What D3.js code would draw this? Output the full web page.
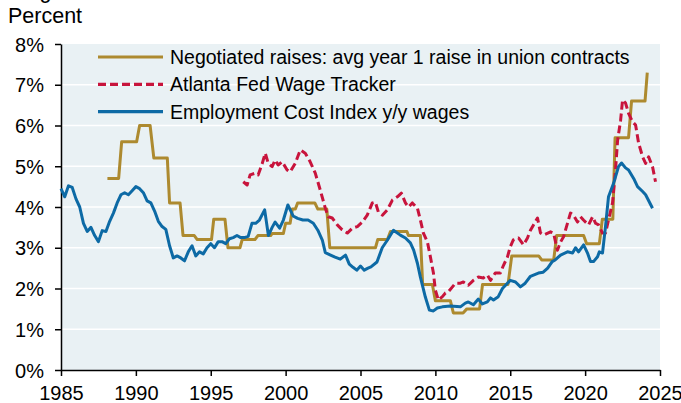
<!DOCTYPE html>
<html>
<head>
  <meta charset="utf-8">
  <title></title>
  <style>
    body { margin: 0; background: #fff; }
    svg text { font-family: "Liberation Sans", Arial, sans-serif; fill: #000; }
  </style>
  <script src="https://d3js.org/d3.v7.min.js"></script>
</head>
<body>
  <svg id="chart" width="681" height="403"></svg>
  <script>
    // ECI y/y wages (decimal year, percent)
    const eciData = [
      [1985.0, 4.45], [1985.25, 4.25], [1985.5, 4.52], [1985.75, 4.48], [1986.0, 4.2], [1986.25, 4.0],
      [1986.5, 3.6], [1986.75, 3.4], [1987.0, 3.5], [1987.25, 3.3], [1987.5, 3.15], [1987.75, 3.42],
      [1988.0, 3.4], [1988.25, 3.65], [1988.5, 3.85], [1988.75, 4.1], [1989.0, 4.3], [1989.25, 4.35],
      [1989.5, 4.3], [1989.75, 4.4], [1990.0, 4.5], [1990.25, 4.45], [1990.5, 4.35], [1990.75, 4.15],
      [1991.0, 4.1], [1991.25, 3.9], [1991.5, 3.65], [1991.75, 3.52], [1992.0, 3.45], [1992.25, 3.05],
      [1992.5, 2.75], [1992.75, 2.8], [1993.0, 2.75], [1993.25, 2.68], [1993.5, 2.9], [1993.75, 3.05],
      [1994.0, 2.8], [1994.25, 2.9], [1994.5, 2.85], [1994.75, 3.0], [1995.0, 3.1], [1995.25, 3.0],
      [1995.5, 3.15], [1995.75, 3.15], [1996.0, 3.1], [1996.25, 3.22], [1996.5, 3.25], [1996.75, 3.3],
      [1997.0, 3.25], [1997.25, 3.25], [1997.5, 3.28], [1997.75, 3.6], [1998.0, 3.6], [1998.25, 3.68],
      [1998.6, 3.93], [1998.85, 3.3], [1999.1, 3.5], [1999.3, 3.63], [1999.6, 3.48], [1999.85, 3.68],
      [2000.15, 4.05], [2000.5, 3.78], [2000.8, 3.72], [2001.15, 3.68], [2001.5, 3.68], [2001.85, 3.6],
      [2002.15, 3.43], [2002.45, 3.19], [2002.65, 2.88], [2003.0, 2.82], [2003.3, 2.77], [2003.65, 2.72],
      [2004.0, 2.82], [2004.25, 2.6], [2004.5, 2.52], [2004.75, 2.45], [2005.0, 2.55], [2005.25, 2.45],
      [2005.5, 2.5], [2005.7, 2.53], [2006.1, 2.65], [2006.45, 3.0], [2006.8, 3.19], [2007.2, 3.43],
      [2007.66, 3.31], [2008.0, 3.24], [2008.33, 3.12], [2008.55, 2.94], [2008.8, 2.62], [2009.0, 2.28],
      [2009.33, 1.79], [2009.6, 1.47], [2009.87, 1.45], [2010.13, 1.52], [2010.47, 1.55], [2011.0, 1.57],
      [2011.67, 1.55], [2012.0, 1.64], [2012.2, 1.67], [2012.54, 1.6], [2012.87, 1.74], [2013.14, 1.62],
      [2013.47, 1.67], [2013.68, 1.77], [2013.88, 1.72], [2014.2, 1.8], [2014.48, 2.0], [2014.81, 2.13],
      [2015.0, 2.2], [2015.35, 2.16], [2015.68, 2.04], [2016.0, 2.13], [2016.35, 2.3], [2016.55, 2.33],
      [2016.88, 2.38], [2017.2, 2.4], [2017.5, 2.5], [2017.8, 2.66], [2018.0, 2.7], [2018.36, 2.82],
      [2018.82, 2.9], [2019.16, 2.87], [2019.36, 3.0], [2019.56, 2.9], [2019.9, 3.07], [2020.16, 2.87],
      [2020.36, 2.66], [2020.56, 2.66], [2020.83, 2.78], [2020.95, 2.9], [2021.16, 2.87], [2021.36, 3.52],
      [2021.56, 4.25], [2021.9, 4.58], [2022.23, 4.99], [2022.43, 5.08], [2022.7, 4.96], [2022.9, 4.91],
      [2023.24, 4.7], [2023.5, 4.5], [2023.84, 4.38], [2024.04, 4.3], [2024.5, 3.97]
    ]

    // Atlanta Fed Wage Tracker
    const atlData = [
      [1997.17, 4.62], [1997.43, 4.54], [1997.63, 4.79], [1997.97, 4.83], [1998.17, 4.79], [1998.44, 5.07],
      [1998.64, 5.32], [1998.84, 5.07], [1999.1, 4.99], [1999.3, 5.15], [1999.5, 5.03], [1999.77, 5.11],
      [2000.1, 4.91], [2000.3, 4.86], [2000.64, 5.07], [2000.98, 5.4], [2001.31, 5.32], [2001.64, 5.11],
      [2001.98, 4.83], [2002.31, 4.42], [2002.65, 3.97], [2002.85, 3.76], [2003.11, 3.73], [2003.45, 3.56],
      [2003.78, 3.44], [2004.12, 3.36], [2004.45, 3.48], [2004.79, 3.52], [2005.12, 3.63], [2005.45, 3.8],
      [2005.79, 4.1], [2005.99, 4.12], [2006.19, 3.88], [2006.46, 3.8], [2006.79, 3.93], [2007.13, 4.17],
      [2007.46, 4.25], [2007.73, 4.34], [2008.0, 4.1], [2008.2, 4.0], [2008.46, 4.1], [2008.8, 3.97],
      [2009.0, 3.68], [2009.2, 3.36], [2009.47, 3.14], [2009.67, 2.77], [2009.87, 2.38], [2010.0, 1.96],
      [2010.2, 1.72], [2010.47, 1.8], [2010.67, 1.89], [2010.87, 1.92], [2011.14, 2.04], [2011.34, 2.13],
      [2011.67, 2.13], [2011.87, 2.16], [2012.2, 2.08], [2012.54, 2.2], [2012.87, 2.28], [2013.2, 2.26],
      [2013.47, 2.33], [2013.68, 2.2], [2014.0, 2.38], [2014.34, 2.38], [2014.55, 2.57], [2014.81, 2.77],
      [2015.0, 3.02], [2015.2, 3.19], [2015.55, 3.24], [2015.88, 3.07], [2016.15, 3.24], [2016.35, 3.43],
      [2016.55, 3.56], [2016.82, 3.73], [2017.02, 3.36], [2017.22, 3.31], [2017.69, 3.39], [2017.89, 3.36],
      [2018.15, 2.94], [2018.36, 3.14], [2018.56, 3.27], [2018.82, 3.6], [2019.02, 3.85], [2019.22, 3.8],
      [2019.49, 3.63], [2019.69, 3.76], [2019.89, 3.68], [2020.23, 3.56], [2020.5, 3.76], [2020.7, 3.6],
      [2020.9, 3.56], [2021.16, 3.36], [2021.36, 3.36], [2021.56, 3.68], [2021.83, 4.1], [2022.03, 4.91],
      [2022.17, 5.64], [2022.37, 6.13], [2022.5, 6.63], [2022.7, 6.55], [2022.9, 6.3], [2023.17, 6.09],
      [2023.37, 6.01], [2023.57, 5.57], [2023.84, 5.23], [2024.04, 5.07], [2024.24, 5.23], [2024.5, 4.99],
      [2024.7, 4.62]
    ]

    // Negotiated raises, avg year 1 raise in union contracts (step levels)
    const unionData = [
      [1988.1, 4.7], [1988.85, 4.7], [1989.05, 5.6], [1990.05, 5.6], [1990.25, 6.0], [1990.95, 6.0],
      [1991.2, 5.2], [1992.1, 5.2], [1992.25, 4.1], [1992.95, 4.1], [1993.15, 3.3], [1993.9, 3.3],
      [1994.1, 3.2], [1995.05, 3.2], [1995.2, 3.7], [1995.95, 3.7], [1996.15, 3.0], [1996.95, 3.0],
      [1997.1, 3.2], [1997.95, 3.2], [1998.15, 3.3], [1999.0, 3.3], [1999.1, 3.35], [1999.85, 3.35],
      [2000.0, 3.6], [2000.3, 3.6], [2000.45, 3.95], [2000.65, 3.95], [2000.8, 4.1], [2001.95, 4.1],
      [2002.15, 3.95], [2002.75, 3.95], [2002.95, 3.0], [2006.0, 3.0], [2006.15, 3.2], [2006.8, 3.2],
      [2007.0, 3.4], [2008.1, 3.4], [2008.2, 3.3], [2009.0, 3.3], [2009.15, 2.1], [2009.8, 2.1],
      [2010.0, 1.7], [2011.0, 1.7], [2011.2, 1.4], [2011.85, 1.4], [2012.1, 1.5], [2012.95, 1.5],
      [2013.15, 2.1], [2014.85, 2.1], [2015.1, 2.8], [2016.9, 2.8], [2017.1, 2.7], [2017.9, 2.7],
      [2018.1, 3.3], [2019.9, 3.3], [2020.1, 3.1], [2020.95, 3.1], [2021.15, 3.7], [2021.85, 3.7],
      [2022.0, 5.7], [2022.9, 5.7], [2023.1, 6.6], [2024.0, 6.6], [2024.15, 7.3]
    ]

    const xTicks = [1985, 1990, 1995, 2000, 2005, 2010, 2015, 2020, 2025]
    const yTicks = [0, 1, 2, 3, 4, 5, 6, 7, 8]
    const legendLabels = [
      "Negotiated raises: avg year 1 raise in union contracts",
      "Atlanta Fed Wage Tracker",
      "Employment Cost Index y/y wages"
    ]

    const svg = d3.select("#chart")
    const margin = {top: 44, right: 21, bottom: 33, left: 61}
    const width = 681 - margin.left - margin.right
    const height = 403 - margin.top - margin.bottom

    const x = d3.scaleLinear().domain([1985, 2025]).range([margin.left, margin.left + width])
    const y = d3.scaleLinear().domain([0, 8]).range([margin.top + height, margin.top])

    // panel background
    svg.append("rect")
      .attr("x", x(1985)).attr("y", y(8))
      .attr("width", x(2025) - x(1985)).attr("height", y(0) - y(8))
      .attr("fill", "#e9f1f4")

    // gridlines
    svg.append("g")
      .selectAll("line")
      .data(yTicks.filter(d => d > 0 && d < 8))
      .enter().append("line")
      .attr("x1", x(1985)).attr("x2", x(2025))
      .attr("y1", d => y(d)).attr("y2", d => y(d))
      .attr("stroke", "#fff").attr("stroke-width", 1.6)

    // titles
    svg.append("text").attr("x", 8).attr("y", -2).style("font-size", "21.5px").text("Wages")
    svg.append("text").attr("x", 8).attr("y", 23).style("font-size", "21.5px").text("Percent")

    // axes
    const xAxis = svg.append("g")
      .attr("transform", `translate(0,${y(0)})`)
      .call(d3.axisBottom(x).tickValues(xTicks).tickFormat(d3.format("d")).tickSize(6).tickSizeOuter(0))
    xAxis.select(".domain").attr("stroke", "#000").attr("stroke-width", 1.5)
    xAxis.selectAll(".tick line").attr("stroke", "#000").attr("stroke-width", 1.5)
    xAxis.selectAll("text").style("font-size", "20px").attr("dy", null).attr("y", 30)

    const yAxis = svg.append("g")
      .attr("transform", `translate(${x(1985)},0)`)
      .call(d3.axisLeft(y).tickValues(yTicks).tickFormat(d => d + "%").tickSize(6).tickSizeOuter(0))
    yAxis.select(".domain").attr("stroke", "#000").attr("stroke-width", 1.5)
    yAxis.selectAll(".tick line").attr("stroke", "#000").attr("stroke-width", 1.5)
    yAxis.selectAll("text").style("font-size", "20px").attr("x", -17).attr("dy", "0.35em")

    const line = d3.line()
      .x(d => x(d[0]))
      .y(d => y(d[1]))

    const series = [
      {data: unionData, color: "#ad8a2f", dash: null},
      {data: atlData, color: "#c8143c", dash: "8,4"},
      {data: eciData, color: "#0d6aa5", dash: null}
    ]

    svg.append("g")
      .selectAll("path")
      .data(series)
      .enter().append("path")
      .attr("d", d => line(d.data))
      .attr("fill", "none")
      .attr("stroke", d => d.color)
      .attr("stroke-width", 3)
      .attr("stroke-dasharray", d => d.dash)
      .attr("stroke-linejoin", "round")

    // legend
    const legend = svg.append("g")
      .selectAll("g")
      .data(series)
      .enter().append("g")
      .attr("transform", (d, i) => `translate(98,${57 + i * 27.3})`)

    legend.append("line")
      .attr("x1", 0).attr("x2", 65)
      .attr("stroke", d => d.color)
      .attr("stroke-width", 3.2)
      .attr("stroke-dasharray", d => d.dash)

    legend.append("text")
      .attr("x", 72).attr("y", 7)
      .style("font-size", "19.5px")
      .text((d, i) => legendLabels[i])
  </script>
</body>
</html>
